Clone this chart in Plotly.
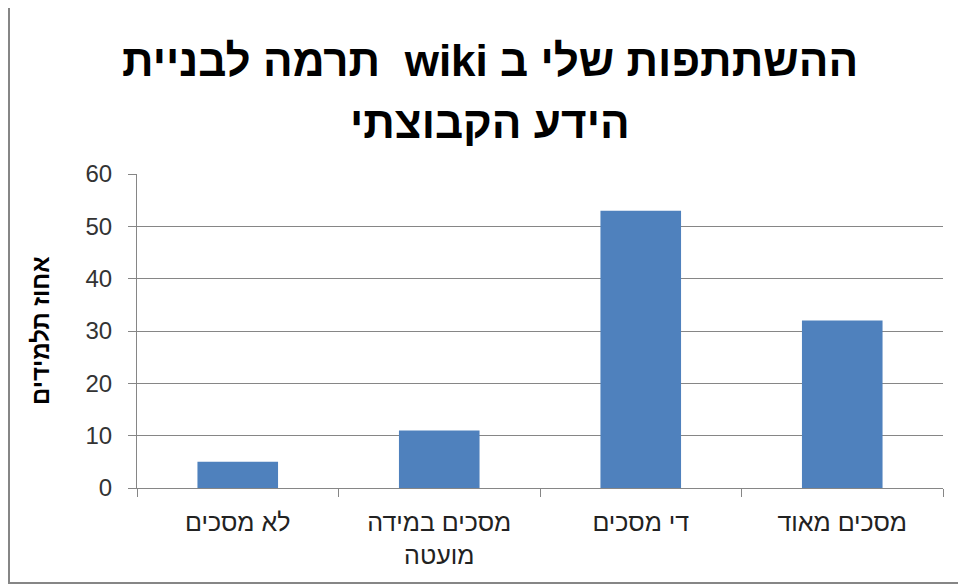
import plotly.graph_objects as go

categories = ["לא מסכים", "מסכים במידה<br>מועטה", "די מסכים", "מסכים מאוד"]
values = [5, 11, 53, 32]
title_line1 = "ההשתתפות שלי ב wiki  תרמה לבניית"
title_line2 = "הידע הקבוצתי"
y_title = "אחוז תלמידים"
y_ticks = [0, 10, 20, 30, 40, 50, 60]

W, H = 966, 586
OFF = 8  # page body margin
# plot area in screen coordinates
SL, SR, ST, SB = 137, 943, 174, 488
L, T = SL - OFF, ST - OFF
R, B = W - (SR - OFF), H - (SB - OFF)
pw, ph = SR - SL, SB - ST

def px_x(x):
    return (x - SL) / pw

def px_y(y):
    return (SB - y) / ph

FONT = "Liberation Sans, Arial, DejaVu Sans, sans-serif"

fig = go.Figure(go.Bar(x=categories, y=values, marker_color="#4F81BD",
                       marker_line_width=0, width=0.4))

grid = "#868686"
fig.update_layout(
    width=W, height=H,
    margin=dict(l=L, r=R, t=T, b=B),
    paper_bgcolor="white", plot_bgcolor="white",
    showlegend=False,
    font=dict(family=FONT, size=24, color="#333333"),
    xaxis=dict(showline=True, linecolor=grid, linewidth=1, ticks="outside",
               tickson="boundaries", ticklen=8, tickcolor=grid, showgrid=False,
               ticklabelstandoff=12,
               tickfont=dict(size=25, color="#222222")),
    yaxis=dict(range=[0, 60], tickvals=y_ticks, showline=True, linecolor=grid,
               linewidth=1, ticks="outside", ticklen=8, tickcolor=grid,
               showgrid=True, gridcolor=grid, gridwidth=1, zeroline=False,
               ticklabelstandoff=11,
               tickfont=dict(size=24, color="#333333")),
    shapes=[dict(type="rect", xref="paper", yref="paper",
                 x0=px_x(9), x1=px_x(990), y0=px_y(583), y1=px_y(6),
                 line=dict(color="#868686", width=2), layer="below")],
    annotations=[
        dict(text="<b>\u202B" + title_line1 + "\u202C</b>", xref="paper", yref="paper",
             x=px_x(490), y=px_y(61), xanchor="center", yanchor="middle",
             showarrow=False, font=dict(size=44, color="black", family=FONT)),
        dict(text="<b>" + title_line2 + "</b>", xref="paper", yref="paper",
             x=px_x(490), y=px_y(123), xanchor="center", yanchor="middle",
             showarrow=False, font=dict(size=44, color="black", family=FONT)),
        dict(text="<b>" + y_title + "</b>", xref="paper", yref="paper",
             x=px_x(40), y=0.5, xanchor="center", yanchor="middle",
             textangle=-90, showarrow=False,
             font=dict(size=24, color="black", family=FONT)),
    ],
)

fig.write_html("out.html")
